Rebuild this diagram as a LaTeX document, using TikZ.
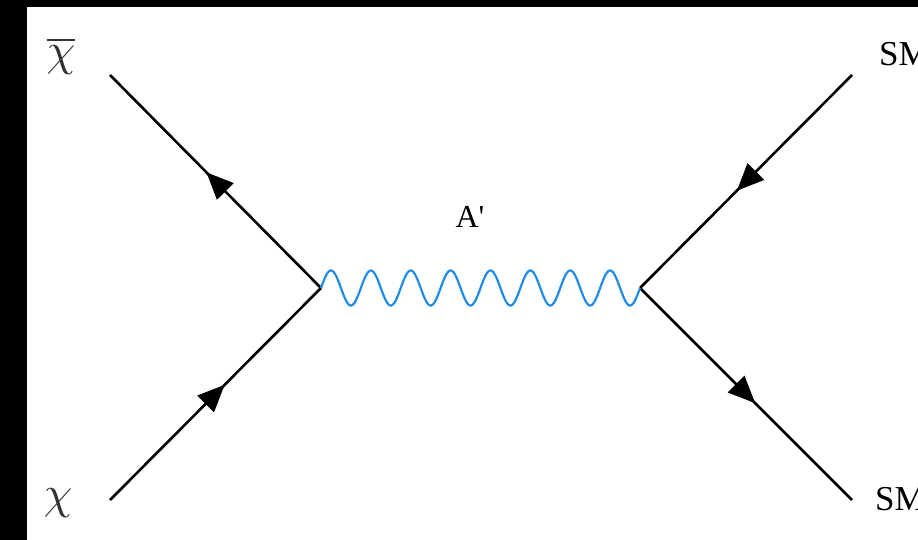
\documentclass[tikz,border=0pt]{standalone}
\usepackage{fontspec}
\setmainfont{Liberation Serif}
\usepackage{graphicx}
\usetikzlibrary{arrows.meta,decorations.markings}
\begin{document}
\begin{tikzpicture}[x=1pt,y=-1pt,
  fermion/.style={line width=2.6pt,black,
    postaction={decorate},
    decoration={markings,mark=at position 0.5 with {\arrow[xshift=13pt]{Triangle[length=27pt,width=23pt]}}}},
  photon/.style={line width=2.2pt,color={rgb,255:red,33;green,140;blue,230}},
  biglabel/.style={inner sep=0pt,anchor=base,text=black!80},
  smlabel/.style={inner sep=0pt,anchor=base west,font=\fontsize{35}{35}\selectfont},
  alabel/.style={inner sep=0pt,anchor=base,font=\fontsize{32}{32}\selectfont}]
\useasboundingbox (0,0) rectangle (918,540);
\fill[black] (0,0) rectangle (918,540);
\fill[white] (27,7) rectangle (918,540);
% vertices and external ends
\coordinate (L) at (321,288);
\coordinate (R) at (640,288);
\coordinate (xb) at (110,75);
\coordinate (x) at (110,500);
\coordinate (s1) at (852,75);
\coordinate (s2) at (852,500);
% lines
\draw[fermion] (L) -- (xb);
\draw[fermion] (x) -- (L);
\draw[fermion] (s1) -- (R);
\draw[fermion] (R) -- (s2);
\begin{scope}[shift={(L)}]
\draw[photon] plot[domain=0:319,samples=400,smooth] (\x,{-17.5*sin(9.02821*\x)});
\end{scope}
% labels
\node[biglabel] (lxb) at (61,66) {\scalebox{4.6}{$\overline{\chi}$}};
\node[biglabel] (lx) at (58,508) {\scalebox{4.6}{$\chi$}};
\node[smlabel] (ls1) at (879,66) {SM};
\node[smlabel] (ls2) at (875,510) {SM};
\node[alabel] (la) at (470,228) {A\textquotesingle};
\end{tikzpicture}
\end{document}
